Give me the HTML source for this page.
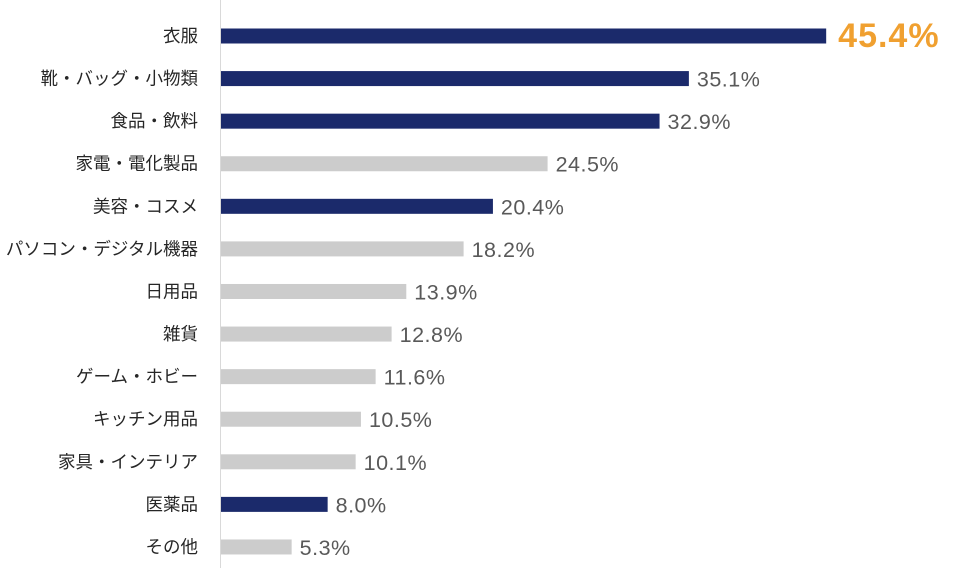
<!DOCTYPE html>
<html><head><meta charset="utf-8"><style>
body{margin:0;background:#fff;}
svg text{font-family:"Liberation Sans","Noto Sans CJK JP",sans-serif;}
</style></head><body>
<svg width="972" height="582" xmlns="http://www.w3.org/2000/svg">
<line x1="220.5" y1="0" x2="220.5" y2="568" stroke="#d9d9d9" stroke-width="1"/>
<g id="g"></g>
</svg>
<script>
var d=[["衣服",45.4,1],["靴・バッグ・小物類",35.1,1],["食品・飲料",32.9,1],["家電・電化製品",24.5,0],["美容・コスメ",20.4,1],["パソコン・デジタル機器",18.2,0],["日用品",13.9,0],["雑貨",12.8,0],["ゲーム・ホビー",11.6,0],["キッチン用品",10.5,0],["家具・インテリア",10.1,0],["医薬品",8.0,1],["その他",5.3,0]];
var s="";
d.forEach(function(r,i){
 var c=36+i*42.58, w=r[1]*13.33;
 s+='<rect x="221" y="'+(c-7.5)+'" width="'+w+'" height="15" fill="'+(r[2]?'#1b2a6b':'#cccccc')+'"/>';
 s+='<text x="198" y="'+(c+6)+'" font-size="17.5" fill="#262626" text-anchor="end">'+r[0]+'</text>';
 if(i==0) s+='<text x="'+(221+w+12)+'" y="'+(c+11)+'" font-size="34" font-weight="bold" letter-spacing="1" fill="#f0a030">45.4%</text>';
 else s+='<text x="'+(221+w+8)+'" y="'+(c+8)+'" font-size="21.5" letter-spacing="0.5" fill="#595959">'+r[1].toFixed(1)+'%</text>';
});
document.getElementById("g").innerHTML=s;
</script>
</body></html>
